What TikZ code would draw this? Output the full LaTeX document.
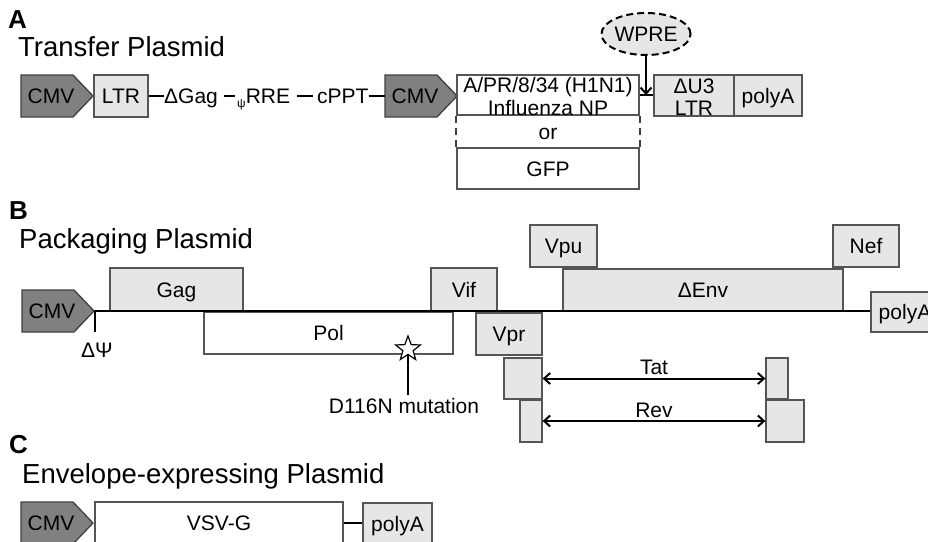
\documentclass[tikz,border=0pt]{standalone}
\usepackage{fontspec}
\setmainfont{Liberation Sans}
\usetikzlibrary{arrows.meta,shapes.geometric}
\definecolor{cmvgray}{HTML}{808080}
\definecolor{lgray}{HTML}{E6E6E6}
\definecolor{bordergray}{HTML}{555555}
\definecolor{darkb}{HTML}{404040}
\tikzset{
  every node/.style={font=\fontsize{21}{23}\selectfont, inner sep=0pt},
  t/.style={text height=15pt, text depth=0pt},
  gene/.style={t, draw=bordergray, line width=1.3pt, fill=lgray},
  plain/.style={t, draw=bordergray, line width=1.3pt, fill=white},
  conn/.style={line width=2pt, black},
  mainline/.style={line width=2.2pt, black},
  dbl/.style={line width=2pt, {Straight Barb[length=6pt,width=11pt]}-{Straight Barb[length=6pt,width=11pt]}},
  cmvshape/.style={draw=darkb, line width=1.3pt, fill=cmvgray},
  panel/.style={anchor=base west, font=\bfseries\fontsize{26}{28}\selectfont},
  title/.style={anchor=base west, font=\fontsize{27.5}{30}\selectfont},
}
\newcommand\cmvpent[3]{%
  \draw[cmvshape] (#2,#3-21) -- (#2+52,#3-21) -- (#2+72,#3) -- (#2+52,#3+21) -- (#2,#3+21) -- cycle;
  \node[t] (#1) at (#2+30,#3) {CMV};
  \coordinate (#1tip) at (#2+72,#3);
  \coordinate (#1west) at (#2,#3);
}
\begin{document}
\begin{tikzpicture}[x=1pt,y=-1pt]
\useasboundingbox (0,0) rectangle (928,541);
\clip (0,0) rectangle (928,541);
% ---------------- A ----------------
\node[panel] (labA) at (8,28) {A};
\node[title] (titA) at (18,56) {Transfer Plasmid};
\cmvpent{cmvA}{21}{96}
\node[gene, minimum width=54pt, minimum height=42pt] (ltrA) at (121,96) {LTR};
\node[t, anchor=west] (gagA) at (164,96) {ΔGag};
\node[t, anchor=west] (rreA) at (237,96) {\raisebox{-4pt}{\fontsize{12}{12}\selectfont ψ}RRE};
\node[t, anchor=west] (cpptA) at (317,96) {cPPT};
\cmvpent{cmvA2}{385}{96}
\draw[conn] (ltrA.east) -- (ltrA.east -| gagA.west);
\draw[conn] ([xshift=6pt]gagA.east) -- ([xshift=-2pt]rreA.west);
\draw[conn] ([xshift=7pt]rreA.east) -- ([xshift=-4pt]cpptA.west);
\draw[conn] (cpptA.east) -- (cmvA2west);
\node[plain, minimum width=182pt, minimum height=40pt] (npA) at (548,95) {};
\node[t] (npT1) at (548,85) {A/PR/8/34 (H1N1)};
\node[t] (npT2) at (548,108) {Influenza NP};
\node[t, minimum width=182pt, minimum height=33pt] (orA) at (548,131.5) {or};
\node[plain, minimum width=182pt, minimum height=41pt] (gfpA) at (548,168.5) {GFP};
\draw[line width=2pt, darkb, dash pattern=on 7pt off 5pt] (npA.south west) -- (gfpA.north west);
\draw[line width=2pt, darkb, dash pattern=on 7pt off 5pt] (npA.south east) -- (gfpA.north east);
\node[gene, minimum width=80pt, minimum height=41pt] (du3A) at (694,95.5) {};
\node[t] (du3T1) at (694,86) {ΔU3};
\node[t] (du3T2) at (694,108) {LTR};
\node[gene, minimum width=68pt, minimum height=41pt] (polyAA) at (768,95.5) {polyA};
\draw[conn] (npA.east) -- (npA.east -| du3A.west);
\node[t, ellipse, draw=black, line width=2pt, dash pattern=on 7pt off 4pt, fill=lgray, minimum width=80pt, minimum height=42pt] (wpre) at (646,34) {WPRE};
\coordinate (wpreT) at (646,95);
\draw[conn, -{Straight Barb[length=6pt,width=11pt]}] (wpre.south) -- (wpreT);
% ---------------- B ----------------
\node[panel] (labB) at (9,219) {B};
\node[title] (titB) at (19,248) {Packaging Plasmid};
\cmvpent{cmvB}{22}{311}
\node[gene, minimum width=68pt, minimum height=40pt] (polyAB) at (905,312) {polyA};
\node[gene, minimum width=133pt, minimum height=43pt] (gagB) at (176.5,289.5) {Gag};
\node[plain, minimum width=249pt, minimum height=42pt] (polB) at (328.5,333) {Pol};
\node[star, star points=5, star point ratio=2.4, draw=black, line width=1.2pt, fill=white, minimum size=26pt, inner sep=0pt] (starB) at (408,349) {};
\node[t] (mutB) at (404,406) {D116N mutation};
\draw[conn] (starB.south) -- ([yshift=3pt]starB.south |- mutB.north);
\node[gene, minimum width=66pt, minimum height=43pt] (vifB) at (464,289.5) {Vif};
\node[gene, minimum width=66pt, minimum height=42pt] (vprB) at (509,334) {Vpr};
\node[gene, minimum width=67pt, minimum height=42pt] (vpuB) at (563.5,246) {Vpu};
\node[gene, minimum width=280pt, minimum height=42pt] (envB) at (703,290) {ΔEnv};
\node[gene, minimum width=66pt, minimum height=42pt] (nefB) at (866,246) {Nef};
\node[gene, minimum width=38pt, minimum height=41pt] (tatL) at (523,378.5) {};
\node[gene, minimum width=22pt, minimum height=41pt] (tatR) at (777,378.5) {};
\node[gene, minimum width=22pt, minimum height=42pt] (revL) at (531,421) {};
\node[gene, minimum width=38pt, minimum height=42pt] (revR) at (785,421) {};
\draw[dbl] (tatL.east) -- (tatR.west) node[t, midway, above=3pt] (tatLab) {Tat};
\draw[dbl] (revL.east |- revR.west) -- (revR.west) node[t, midway, above=3pt] (revLab) {Rev};
\draw[mainline] (cmvBtip) -- (cmvBtip -| polyAB.west);
\coordinate (psiEnd) at (95,332);
\draw[conn] (cmvBtip -| psiEnd) -- (psiEnd);
\node[t] (psiLab) at (97,350) {ΔΨ};
% ---------------- C ----------------
\node[panel] (labC) at (9,453) {C};
\node[title] (titC) at (22,483) {Envelope-expressing Plasmid};
\cmvpent{cmvC}{21}{523}
\node[plain, minimum width=248pt, minimum height=42pt] (vsvC) at (219,523) {VSV-G};
\node[gene, minimum width=69pt, minimum height=42pt] (polyAC) at (397.5,524) {polyA};
\draw[conn] (vsvC.east) -- (vsvC.east -| polyAC.west);
\end{tikzpicture}
\end{document}
